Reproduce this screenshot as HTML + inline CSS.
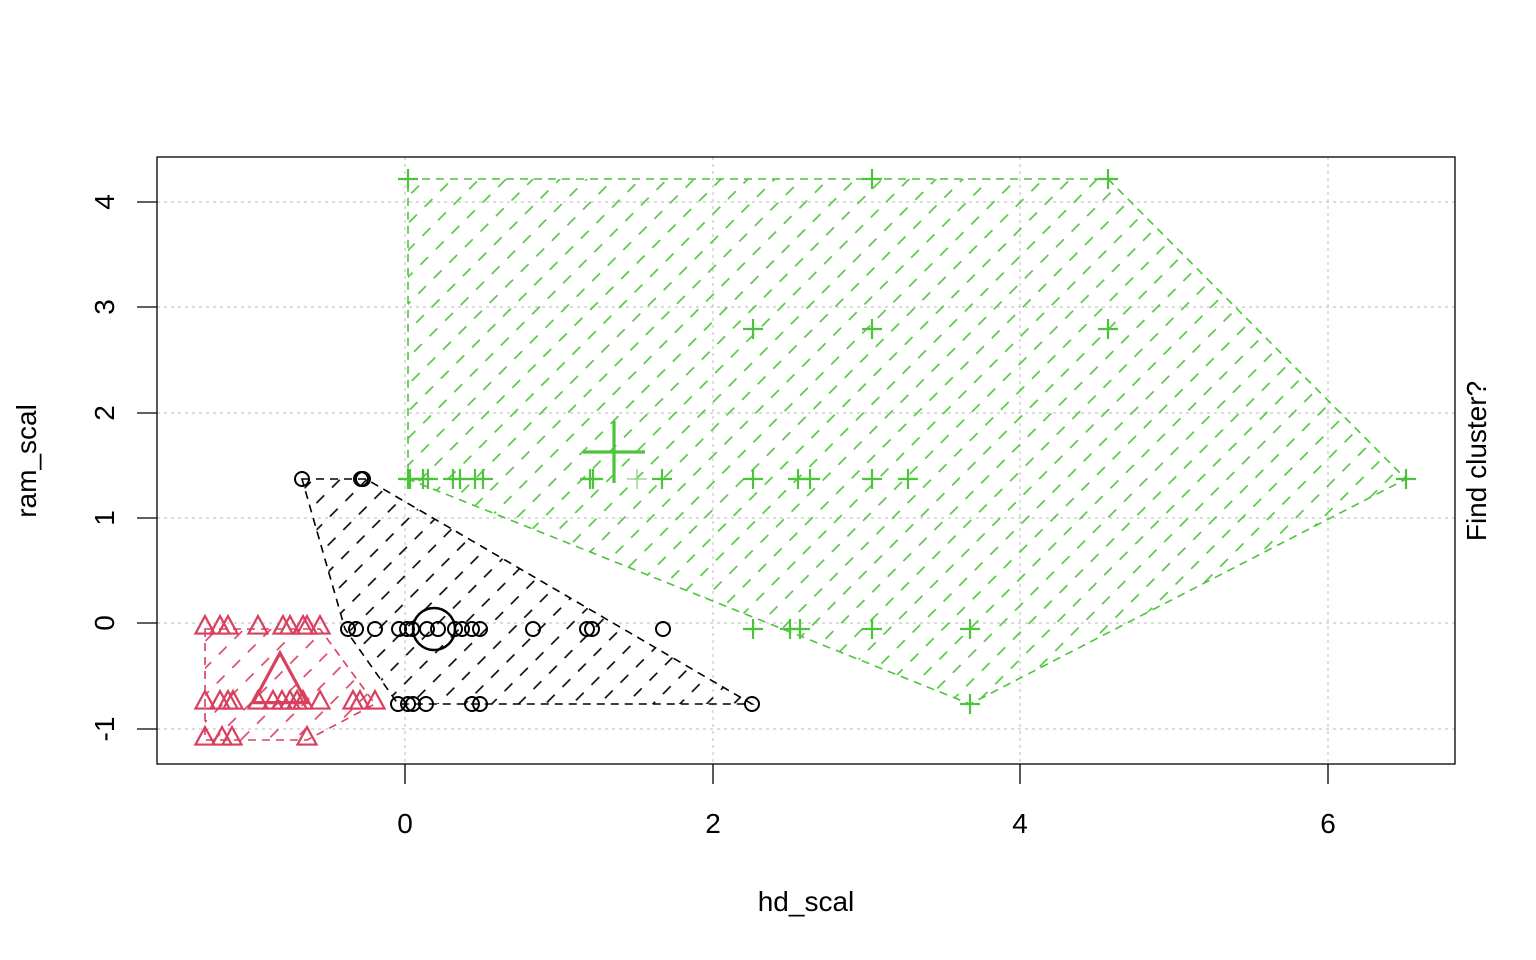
<!DOCTYPE html>
<html><head><meta charset="utf-8"><style>html,body{margin:0;padding:0;background:#fff}svg{display:block}</style></head>
<body>
<svg id="s" width="1536" height="960" xmlns="http://www.w3.org/2000/svg" font-family="Liberation Sans, Arial, sans-serif">
<defs>
<pattern id="hg" patternUnits="userSpaceOnUse" width="22" height="19" patternTransform="rotate(-45)">
<line x1="0" y1="9.5" x2="22" y2="9.5" stroke="#4cc43a" stroke-width="1.6" stroke-dasharray="11,11"/></pattern>
<pattern id="hk" patternUnits="userSpaceOnUse" width="22" height="19" patternTransform="rotate(-45)">
<line x1="0" y1="9.5" x2="22" y2="9.5" stroke="#000" stroke-width="1.6" stroke-dasharray="11,11"/></pattern>
<pattern id="hr" patternUnits="userSpaceOnUse" width="22" height="19" patternTransform="rotate(-45)">
<line x1="0" y1="9.5" x2="22" y2="9.5" stroke="#d8405f" stroke-width="1.6" stroke-dasharray="11,11"/></pattern>
</defs>
<g stroke="#c8c8c8" stroke-width="1.2" stroke-dasharray="3,4">
<line x1="405" y1="157" x2="405" y2="764"/><line x1="713" y1="157" x2="713" y2="764"/>
<line x1="1020" y1="157" x2="1020" y2="764"/><line x1="1328" y1="157" x2="1328" y2="764"/>
<line x1="157" y1="202" x2="1455" y2="202"/><line x1="157" y1="307" x2="1455" y2="307"/>
<line x1="157" y1="413" x2="1455" y2="413"/><line x1="157" y1="518" x2="1455" y2="518"/>
<line x1="157" y1="623" x2="1455" y2="623"/><line x1="157" y1="729" x2="1455" y2="729"/>
</g>
<polygon points="408,179 1108,179 1406,479 970,704 408,479" fill="url(#hg)" stroke="#4cc43a" stroke-width="1.6" stroke-dasharray="8,6"/>
<polygon points="302,479 366,479 752,704 398,704 345,629" fill="url(#hk)" stroke="#000" stroke-width="1.6" stroke-dasharray="8,6"/>
<polygon points="205,629 320,629 375,704 307,740 205,740" fill="url(#hr)" stroke="#d8405f" stroke-width="1.6" stroke-dasharray="8,6"/>
<g id="pts"></g>
<rect x="157" y="157" width="1298" height="607" fill="none" stroke="#000" stroke-width="1.3"/>
<g stroke="#000" stroke-width="1.3">
<line x1="405" y1="764" x2="405" y2="784"/><line x1="713" y1="764" x2="713" y2="784"/>
<line x1="1020" y1="764" x2="1020" y2="784"/><line x1="1328" y1="764" x2="1328" y2="784"/>
<line x1="137" y1="202" x2="157" y2="202"/><line x1="137" y1="307" x2="157" y2="307"/>
<line x1="137" y1="413" x2="157" y2="413"/><line x1="137" y1="518" x2="157" y2="518"/>
<line x1="137" y1="623" x2="157" y2="623"/><line x1="137" y1="729" x2="157" y2="729"/>
</g>
<g font-size="28" text-anchor="middle">
<text x="405" y="833">0</text><text x="713" y="833">2</text><text x="1020" y="833">4</text><text x="1328" y="833">6</text>
<text transform="translate(114,202) rotate(-90)">4</text><text transform="translate(114,307) rotate(-90)">3</text>
<text transform="translate(114,413) rotate(-90)">2</text><text transform="translate(114,518) rotate(-90)">1</text>
<text transform="translate(114,623) rotate(-90)">0</text><text transform="translate(114,729) rotate(-90)">-1</text>
<text x="806" y="911">hd_scal</text>
<text transform="translate(36,461) rotate(-90)">ram_scal</text>
<text transform="translate(1486,461) rotate(-90)">Find cluster?</text>
</g>
</svg>
<script>
var g=document.getElementById('pts'),h='';
function C(x,y,r,w){h+='<circle cx="'+x+'" cy="'+y+'" r="'+r+'" fill="none" stroke="#000" stroke-width="'+w+'"/>';}
function T(x,y,s,w){var a=s*1.15;h+='<polygon points="'+x+','+(y-a)+' '+(x-s)+','+(y+a*0.6)+' '+(x+s)+','+(y+a*0.6)+'" fill="none" stroke="#d8405f" stroke-width="'+w+'"/>';}
function P(x,y,s,w,c){h+='<path d="M'+(x-s)+' '+y+'H'+(x+s)+'M'+x+' '+(y-s)+'V'+(y+s)+'" stroke="'+(c||'#4cc43a')+'" stroke-width="'+w+'"/>';}
[302,361,363].forEach(function(x){C(x,479,7,2)});
[348,356,375,399,407,412,427,438,455,462,472,480,533,587,592,663].forEach(function(x){C(x,629,7,2)});
[398,408,413,426,472,480,752].forEach(function(x){C(x,704,7,2)});
C(434,629,21,2.5);
[205,220,228,258,283,290,303,307,320].forEach(function(x){T(x,627,9.5,2.2)});
[205,220,228,233,258,273,282,290,297,303,320,353,360,375].forEach(function(x){T(x,702,9.5,2.2)});
[205,222,232,307].forEach(function(x){T(x,738,9.5,2.2)});
T(280,684,27,3.2);
[408,872,1108].forEach(function(x){P(x,179,10,2.2)});
[753,872,1108].forEach(function(x){P(x,329,10,2.2)});
[408,410,423,428,453,460,475,483,590,593,662,753,798,810,872,908,1406].forEach(function(x){P(x,479,10,2.2)});
P(637,479,10,1.5,'#9ad890');
[753,790,800,872,970].forEach(function(x){P(x,629,10,2.2)});
P(970,704,10,2.2);
P(614,452,31,3.2);
g.innerHTML=h;
</script>
</body></html>
